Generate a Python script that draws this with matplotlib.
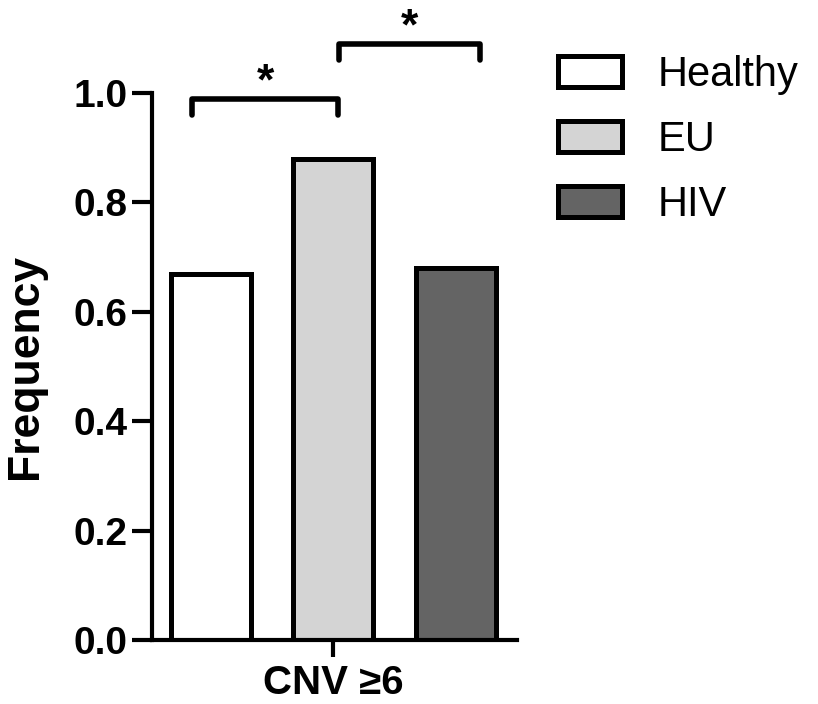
import matplotlib.pyplot as plt
from matplotlib.patches import Patch

plt.rcParams['font.family'] = ['Liberation Sans', 'DejaVu Sans']

groups = ['Healthy', 'EU', 'HIV']
freq = [0.67, 0.88, 0.68]
colors = ['#ffffff', '#d4d4d4', '#646464']
category = 'CNV ≥6'

# significance brackets: (left end, right end, height), in bar-axis units
brackets = [(-0.15, 1.04, 0.99), (1.05, 2.2, 1.09)]

fig = plt.figure(figsize=(8.18, 7.04), dpi=100)
ax = fig.add_axes([0.1858, 0.0909, 0.4462, 0.909])

xpos = [0, 1, 2]
ax.bar(xpos, freq, width=0.65, color=colors, edgecolor='black', linewidth=3.6)

ax.set_xlim(-0.48, 2.5)
ax.set_ylim(0, 1.17)
ax.set_yticks([0, 0.2, 0.4, 0.6, 0.8, 1.0])
ax.set_yticklabels(['0.0', '0.2', '0.4', '0.6', '0.8', '1.0'])
ax.set_xticks([1])
ax.set_xticklabels([category])

for s in ['top', 'right']:
    ax.spines[s].set_visible(False)
ax.spines['left'].set_bounds(0, 1)
ax.spines['left'].set_linewidth(3)
ax.spines['bottom'].set_linewidth(3)
ax.tick_params(axis='y', length=14.5, width=3, labelsize=28, pad=3)
ax.tick_params(axis='x', length=12, width=3, labelsize=29, pad=5)
for lab in ax.get_yticklabels() + ax.get_xticklabels():
    lab.set_fontweight('bold')

ax.set_ylabel('Frequency', fontsize=32, fontweight='bold')
ax.yaxis.set_label_coords(-0.29, 0.5 / 1.17)

# brackets with stars
for x0, x1, h in brackets:
    ax.plot([x0, x0, x1, x1], [h - 0.03, h, h, h - 0.03], color='black',
            linewidth=4, clip_on=False, solid_joinstyle='round',
            solid_capstyle='round')
    ax.text((x0 + x1) / 2, h + 0.008, '*', ha='center', va='baseline',
            fontsize=32, fontweight='bold', clip_on=False)

handles = [Patch(facecolor=c, edgecolor='black', linewidth=3.6) for c in colors]
fig.legend(handles, groups, loc='upper left', bbox_to_anchor=(0.682, 0.922),
           frameon=False, fontsize=30, handlelength=1.53, handleheight=0.79,
           handletextpad=0.86, labelspacing=0.6, borderpad=0, borderaxespad=0)

fig.savefig('out.png', dpi=100)
